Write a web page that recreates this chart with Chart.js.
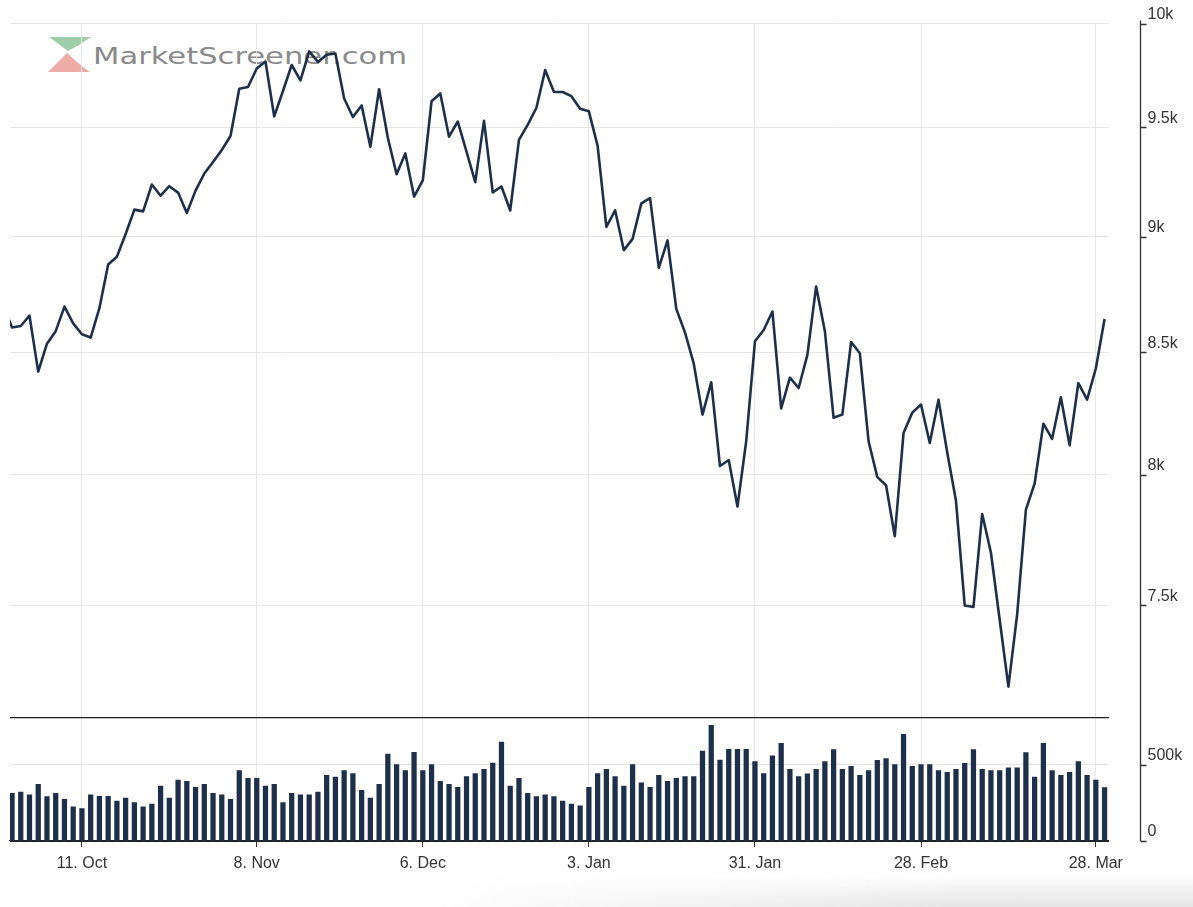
<!DOCTYPE html>
<html>
<head>
<meta charset="utf-8">
<title>MarketScreener</title>
<script src="https://cdn.jsdelivr.net/npm/chart.js@4.4.1/dist/chart.umd.min.js"></script>
<style>
  body { margin:0; background:#fff; }
  #wrap { position:relative; width:1193px; height:907px; overflow:hidden; }
  #logo { position:absolute; left:0; top:0; }
  #shade { position:absolute; left:0; bottom:0; width:1193px; height:32px;
    background: linear-gradient(to bottom, rgba(230,230,230,0), rgba(226,226,226,0.9));
    -webkit-mask-image: linear-gradient(to right, transparent 35%, black 80%);
    mask-image: linear-gradient(to right, transparent 35%, black 80%); }
  #price_chart { position:absolute; left:0; top:0; }
</style>
</head>
<body>
<div id="wrap">
  <svg id="logo" width="450" height="90">
    <polygon points="49,37 91,37 79,45 68,51" fill="#86c293" opacity="0.8"/>
    <polygon points="48,72 67,53 78,63 90,72" fill="#ec9c95" opacity="0.85"/>
    <text x="93" y="64" textLength="314" lengthAdjust="spacingAndGlyphs" font-family="DejaVu Sans" font-size="23" fill="#8a8a8a">MarketScreener.com</text>
  </svg>
  <div id="shade"></div>
  <canvas id="price_chart" width="1193" height="907"></canvas>
</div>
<script>
// trading days, Sep 28 2021 .. Mar 29 2022
const dates = [
  '2021-09-28','2021-09-29','2021-09-30',
  '2021-10-01','2021-10-04','2021-10-05','2021-10-06','2021-10-07','2021-10-08','2021-10-11','2021-10-12','2021-10-13','2021-10-14','2021-10-15',
  '2021-10-18','2021-10-19','2021-10-20','2021-10-21','2021-10-22','2021-10-25','2021-10-26','2021-10-27','2021-10-28','2021-10-29',
  '2021-11-01','2021-11-02','2021-11-03','2021-11-04','2021-11-05','2021-11-08','2021-11-09','2021-11-10','2021-11-11','2021-11-12',
  '2021-11-15','2021-11-16','2021-11-17','2021-11-18','2021-11-19','2021-11-22','2021-11-23','2021-11-24','2021-11-26','2021-11-29','2021-11-30',
  '2021-12-01','2021-12-02','2021-12-03','2021-12-06','2021-12-07','2021-12-08','2021-12-09','2021-12-10','2021-12-13','2021-12-14','2021-12-15',
  '2021-12-16','2021-12-17','2021-12-20','2021-12-21','2021-12-22','2021-12-23','2021-12-27','2021-12-28','2021-12-29','2021-12-30','2021-12-31',
  '2022-01-03','2022-01-04','2022-01-05','2022-01-06','2022-01-07','2022-01-10','2022-01-11','2022-01-12','2022-01-13','2022-01-14',
  '2022-01-18','2022-01-19','2022-01-20','2022-01-21','2022-01-24','2022-01-25','2022-01-26','2022-01-27','2022-01-28','2022-01-31',
  '2022-02-01','2022-02-02','2022-02-03','2022-02-04','2022-02-07','2022-02-08','2022-02-09','2022-02-10','2022-02-11',
  '2022-02-14','2022-02-15','2022-02-16','2022-02-17','2022-02-18','2022-02-22','2022-02-23','2022-02-24','2022-02-25','2022-02-28',
  '2022-03-01','2022-03-02','2022-03-03','2022-03-04','2022-03-07','2022-03-08','2022-03-09','2022-03-10','2022-03-11',
  '2022-03-14','2022-03-15','2022-03-16','2022-03-17','2022-03-18','2022-03-21','2022-03-22','2022-03-23','2022-03-24','2022-03-25','2022-03-28','2022-03-29'
];

const priceClose = [
  8700,
  8605, 8611, 8655, 8419, 8536, 8589, 8694, 8622,
  8576, 8562, 8687, 8877, 8911, 9012, 9121, 9113, 9235, 9184,
  9227, 9198, 9106, 9207, 9285, 9338, 9394, 9459, 9683, 9691,
  9780, 9814, 9551, 9672, 9797, 9723, 9863, 9812, 9847, 9853,
  9636, 9548, 9603, 9409, 9680, 9451, 9282, 9378, 9180, 9254,
  9623, 9660, 9456, 9527, 9386, 9246, 9530, 9199, 9226, 9117,
  9441, 9511, 9592, 9773, 9667, 9667, 9647, 9587, 9575, 9413,
  9043, 9118, 8940, 8990, 9149, 9173, 8862, 8983, 8684, 8583,
  8452, 8242, 8375, 8035, 8059, 7876, 8134, 8546, 8594, 8673,
  8267, 8394, 8351, 8489, 8781, 8589, 8229, 8242, 8543, 8496,
  8134, 7991, 7959, 7761, 8167, 8250, 8283, 8127, 8303, 8089,
  7898, 7500, 7494, 7847, 7698, 7447, 7205, 7467, 7864, 7966,
  8205, 8144, 8313, 8118, 8371, 8303, 8432, 8641
];

// volume in thousands
const volumeK = [
  300,
  314, 322, 303, 373, 292, 314, 274, 224,
  213, 303, 294, 294, 263, 283, 252, 224, 243, 362,
  283, 401, 393, 353, 373, 314, 303, 274, 463, 412,
  412, 362, 373, 252, 314, 303, 303, 322, 432, 421,
  463, 443, 333, 283, 373, 572, 502, 463, 583, 463,
  502, 393, 373, 353, 423, 443, 471, 513, 651, 362,
  412, 314, 292, 303, 292, 263, 243, 232, 353, 443,
  471, 423, 362, 502, 382, 353, 432, 393, 412, 423,
  423, 592, 761, 533, 603, 603, 603, 522, 443, 561,
  643, 471, 423, 441, 471, 522, 601, 471, 491, 432,
  463, 531, 542, 502, 702, 491, 502, 502, 463, 452,
  471, 511, 601, 471, 463, 463, 482, 482, 581, 421,
  643, 463, 432, 452, 522, 432, 401, 351
];

const tickDates = ['2021-10-11','2021-11-08','2021-12-06','2022-01-03','2022-01-31','2022-02-28','2022-03-28'];
const tickLabels = ['11. Oct','8. Nov','6. Dec','3. Jan','31. Jan','28. Feb','28. Mar'];
const priceTicks = [7500, 8000, 8500, 9000, 9500, 10000];
const volumeTicks = [0, 500];

const priceMin = 7094, priceMax = 10000;
const volMax = 809;
const navy = '#1e3049';
const labelFont = { family: 'Liberation Sans, Arial, sans-serif', size: 16 };

// axis line sits a bit right of the plot, like the original
const axisLine = {
  id: 'axisLine',
  afterDraw(chart) {
    const c = chart.ctx, yP = chart.scales.yPrice, yV = chart.scales.yVol;
    const x = Math.round(chart.chartArea.right + 31) + 0.5;
    c.save();
    c.strokeStyle = '#333';
    c.lineWidth = 1.3;
    c.beginPath();
    c.moveTo(x, yP.top - 3);
    c.lineTo(x, yV.bottom);
    [yP, yV].forEach(s => s.ticks.forEach(t => {
      if (s === yV && t.value === volMax) return;
      const y = Math.round(s.getPixelForValue(t.value)) + 0.5;
      c.moveTo(x, y);
      c.lineTo(x + 6, y);
    }));
    c.stroke();
    c.restore();
  }
};

let ctx = document.getElementById('price_chart');
let priceChart = new Chart(ctx, {
  type: 'line',
  plugins: [axisLine],
  data: {
    datasets: [{
      type: 'line',
      label: 'Close',
      yAxisID: 'yPrice',
      data: dates.map((d, j) => ({ x: j, y: priceClose[j] })),
      borderColor: navy,
      borderWidth: 2.6,
      borderJoinStyle: 'round',
      pointRadius: 0,
      tension: 0
    }, {
      type: 'bar',
      label: 'Volume',
      yAxisID: 'yVol',
      data: dates.map((d, j) => ({ x: j, y: volumeK[j] })),
      backgroundColor: navy,
      barThickness: 4.6
    }]
  },
  options: {
    responsive: false,
    animation: false,
    layout: { padding: { left: 10, top: 23.5, right: 0, bottom: 0 } },
    plugins: { legend: { display: false }, tooltip: { enabled: false } },
    scales: {
      x: {
        type: 'linear',
        min: 0.77,
        max: 126.45,
        offset: false,
        afterBuildTicks: s => { s.ticks = tickDates.map(d => ({ value: dates.indexOf(d) })); },
        afterFit: s => { s.height = 66; },
        grid: { color: '#e6e6e6', tickColor: '#333', tickLength: 6, offset: false },
        border: { color: '#222', width: 1.3 },
        ticks: {
          callback: v => tickLabels[tickDates.indexOf(dates[v])],
          font: labelFont, color: '#333', padding: 7, maxRotation: 0, autoSkip: false
        }
      },
      yPrice: {
        type: 'logarithmic',
        position: 'right',
        stack: 'panes',
        stackWeight: 694.5,
        min: priceMin,
        max: priceMax,
        afterBuildTicks: s => { s.ticks = priceTicks.map(v => ({ value: v })); },
        afterFit: s => { s.width = 84.5; },
        grid: { color: '#e6e6e6', tickColor: 'rgba(0,0,0,0)', tickLength: 39 },
        border: { display: false },
        ticks: {
          callback: v => (v / 1000) + 'k',
          font: labelFont, color: '#333', padding: 0, labelOffset: -9
        }
      },
      yVol: {
        type: 'linear',
        position: 'right',
        stack: 'panes',
        stackWeight: 123,
        min: 0,
        max: volMax,
        afterBuildTicks: s => { s.ticks = volumeTicks.concat([volMax]).map(v => ({ value: v })); },
        afterFit: s => { s.width = 84.5; },
        grid: {
          color: c => (c.tick && (c.tick.value === volMax || c.tick.value === 0)) ? '#222' : '#e6e6e6',
          lineWidth: c => (c.tick && c.tick.value === volMax) ? 1.3 : 1,
          tickColor: 'rgba(0,0,0,0)',
          tickLength: 39
        },
        border: { display: false },
        ticks: {
          callback: v => v === volMax ? '' : (v === 0 ? '0' : v + 'k'),
          font: labelFont, color: '#333', padding: 0, labelOffset: -9
        }
      }
    }
  }
});
</script>
</body>
</html>
